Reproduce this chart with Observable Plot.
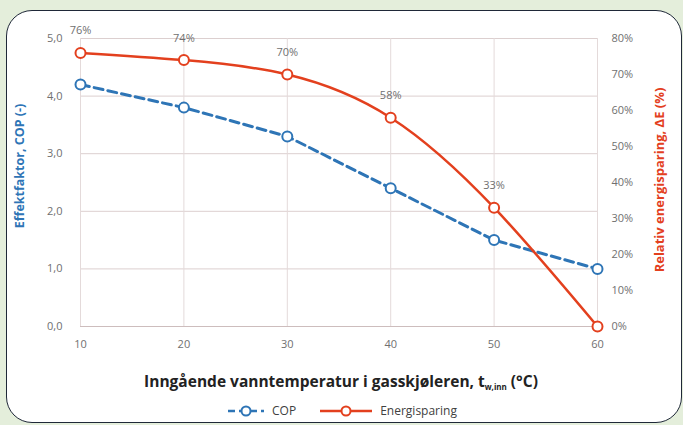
<!DOCTYPE html>
<html><head><meta charset="utf-8">
<script src="https://cdn.jsdelivr.net/npm/d3@7"></script>
<script src="https://cdn.jsdelivr.net/npm/@observablehq/plot@0.6"></script>
<style>
html,body{margin:0;padding:0;width:683px;height:425px;overflow:hidden;background:#e4eedb;font-family:"Open Sans",sans-serif;}
#card{position:absolute;left:6px;top:10px;width:674px;height:411px;background:#fff;border:1.5px solid #1f2838;border-radius:26px;}
#chart{position:absolute;left:0;top:0;}
#legend{position:absolute;left:0;top:402px;width:683px;display:flex;justify-content:center;gap:22px;font-size:12px;color:#404040;align-items:center;}
#legend span{display:flex;align-items:center;gap:6px;}
</style></head>
<body>
<div id="card"></div>
<div id="chart"></div>
<div id="legend"></div>
<script>
const xValues = [10, 20, 30, 40, 50, 60];
const cop = [4.2, 3.8, 3.3, 2.4, 1.5, 1.0];
const energy = [76, 74, 70, 58, 33, 0];
const energyLabels = ["76%", "74%", "70%", "58%", "33%", ""];
const copTicks = [0, 1, 2, 3, 4, 5];
const energyTicks = [0, 10, 20, 30, 40, 50, 60, 70, 80];
const seriesNames = ["COP", "Energisparing"];
const colors = ["#2e75b6", "#e3401e"];
const k = 80 / 5; // right axis: 80% <-> 5.0

const copData = xValues.map((x, i) => ({x, y: cop[i]}));
const enData = xValues.map((x, i) => ({x, y: energy[i] / k, label: energyLabels[i]}));

const plot = Plot.plot({
  width: 683, height: 395,
  marginLeft: 80, marginRight: 86, marginTop: 38, marginBottom: 69,
  style: {fontFamily: "Open Sans, sans-serif", fontSize: "11px", color: "#6f6f6f", background: "transparent"},
  x: {domain: [10, 60]},
  y: {domain: [0, 5]},
  marks: [
    Plot.gridY(copTicks, {stroke: "#dccfcf", strokeOpacity: 1}),
    Plot.gridX(xValues, {stroke: "#e4dada", strokeOpacity: 1}),
    Plot.ruleY([0], {stroke: "#cdbdbd"}),
    Plot.axisY(copTicks, {anchor: "left", tickSize: 0, tickPadding: 18, tickFormat: d => d.toFixed(1).replace(".", ","), label: null, fill: "#707070"}),
    Plot.axisY(energyTicks.map(e => e / k), {anchor: "right", tickSize: 0, tickPadding: 14, tickFormat: d => Math.round(d * k) + "%", label: null, fill: "#707070"}),
    Plot.axisX(xValues, {tickSize: 0, tickPadding: 14, label: null, fill: "#707070"}),
    Plot.line(copData, {x: "x", y: "y", stroke: colors[0], strokeWidth: 3, strokeDasharray: "9,5"}),
    Plot.line(enData, {x: "x", y: "y", stroke: colors[1], strokeWidth: 2.5, curve: "natural"}),
    Plot.dot(copData, {x: "x", y: "y", r: 5, stroke: colors[0], strokeWidth: 2, fill: "white"}),
    Plot.dot(enData, {x: "x", y: "y", r: 5, stroke: colors[1], strokeWidth: 2, fill: "white"}),
    Plot.text(enData, {x: "x", y: "y", text: "label", dy: -22, fill: "#707070", fontSize: 11})
  ]
});
document.getElementById("chart").appendChild(plot);

const svg = d3.select(plot);
// left axis title
svg.append("text")
  .attr("transform", "translate(24,166) rotate(-90)")
  .attr("text-anchor", "middle").attr("fill", colors[0])
  .style("font-weight", "bold").style("font-size", "12.5px")
  .text("Effektfaktor, COP (-)");
// right axis title
svg.append("text")
  .attr("transform", "translate(664,180) rotate(-90)")
  .attr("text-anchor", "middle").attr("fill", colors[1])
  .style("font-weight", "bold").style("font-size", "13px")
  .text("Relativ energisparing, ΔE (%)");
// x axis title
const xt = svg.append("text")
  .attr("x", 341).attr("y", 387)
  .attr("text-anchor", "middle").attr("fill", "#222")
  .style("font-weight", "bold").style("font-size", "15.5px");
xt.append("tspan").text("Inngående vanntemperatur i gasskjøleren, t");
xt.append("tspan").attr("dy", 3).style("font-size", "8px").text("w,inn");
xt.append("tspan").attr("dy", -3).text(" (°C)");

// legend
const lg = document.getElementById("legend");
seriesNames.forEach((name, i) => {
  const s = document.createElement("span");
  const dash = i === 0 ? 'stroke-dasharray="7,4"' : "";
  s.innerHTML = `<svg width="${i === 0 ? 40 : 56}" height="14"><line x1="2" x2="${i === 0 ? 38 : 54}" y1="7" y2="7" stroke="${colors[i]}" stroke-width="2.5" ${dash}/><circle cx="${i === 0 ? 20 : 28}" cy="7" r="4.5" fill="white" stroke="${colors[i]}" stroke-width="2"/></svg>${name}`;
  lg.appendChild(s);
});
</script>
</body></html>
